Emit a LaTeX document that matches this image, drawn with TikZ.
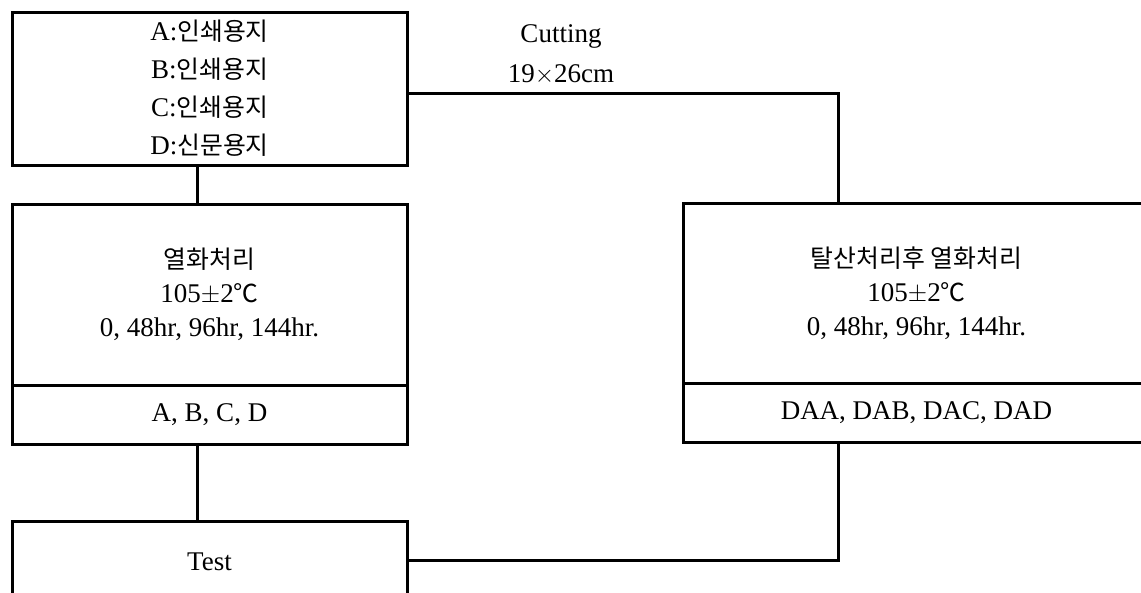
\documentclass[tikz,border=0pt]{standalone}
\usepackage{fontspec}
\setmainfont{Liberation Serif}
\newfontfamily\kr[Scale=0.92]{Noto Sans CJK KR}
\usetikzlibrary{positioning}

\tikzset{
  stagebox/.style={draw,line width=3pt,align=center,inner sep=0pt,
    font=\fontsize{27}{34}\selectfont},
  link/.style={line width=3pt}
}

\begin{document}
\begin{tikzpicture}[x=1pt,y=-1pt]
  \clip (0,0) rectangle (1141,592);
  \useasboundingbox (0,0) rectangle (1141,592);
  % paper samples
  \node[stagebox,minimum width=395pt,minimum height=153pt,
        font=\fontsize{27}{38}\selectfont] (paper) at (209.5,88.5)
    {A:{\kr 인쇄용지}\\B:{\kr 인쇄용지}\\C:{\kr 인쇄용지}\\D:{\kr 신문용지}};
  % aging only
  \node[stagebox,minimum width=395pt,minimum height=181pt] (aging) at (209.5,294.5)
    {{\kr 열화처리}\\105$\pm$2{\kr ℃}\\0, 48hr, 96hr, 144hr.};
  \node[stagebox,minimum width=395pt,minimum height=59pt] (agingcode) at (209.5,414.5)
    {A, B, C, D};
  % deacidification then aging
  \node[stagebox,minimum width=467pt,minimum height=180pt] (deacid) at (916.5,293)
    {{\kr 탈산처리후 열화처리}\\105$\pm$2{\kr ℃}\\0, 48hr, 96hr, 144hr.};
  \node[stagebox,minimum width=467pt,minimum height=59pt] (deacidcode) at (916.5,412.5)
    {DAA, DAB, DAC, DAD};
  % test
  \node[stagebox,minimum width=395pt,minimum height=82pt] (test) at (209.5,562)
    {Test};
  \node[align=center,font=\fontsize{27}{40}\selectfont] (cut) at (561,55)
    {Cutting\\19$\times$26cm};

  \coordinate (spine) at (197,0);
  \coordinate (drop) at (838.5,0);
  \coordinate (cutrow) at (0,93);
  \coordinate (join) at (0,560);
  \draw[link] (paper.south -| spine) -- (aging.north -| spine);
  \draw[link] (agingcode.south -| spine) -- (test.north -| spine);
  \draw[link] (paper.east |- cutrow) -| (deacid.north -| drop);
  \draw[link] (deacidcode.south -| drop) |- (test.east |- join);
\end{tikzpicture}
\end{document}
